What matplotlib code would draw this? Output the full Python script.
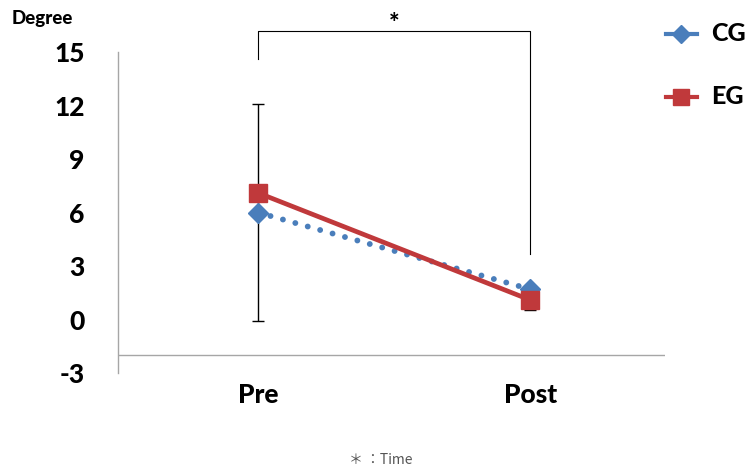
import matplotlib
matplotlib.use("Agg")
from matplotlib import pyplot as plt
from matplotlib.lines import Line2D

groups = ["Pre", "Post"]
cg_mean = [6.0, 1.7]
eg_mean = [7.1, 1.1]
cg_err = [6.1, 0.0]
eg_err = [0.0, 0.55]
y_ticks = [-3, 0, 3, 6, 9, 12, 15]

blue = "#4a7ebb"
red = "#c0393b"
plt.rcParams["font.family"] = ["Lato", "DejaVu Sans"]

fig = plt.figure(figsize=(7.53, 4.72), dpi=100)
ax = fig.add_axes([0.1567, 0.2097, 0.7264, 0.6801])
x = list(range(len(groups)))

# error bars first so markers sit on top
ax.errorbar(x, cg_mean, yerr=cg_err, fmt="none", ecolor="black",
            elinewidth=1, capsize=4, capthick=1, zorder=2)
ax.errorbar(x, eg_mean, yerr=eg_err, fmt="none", ecolor="black",
            elinewidth=1, capsize=4, capthick=1, zorder=2)

ax.plot(x, cg_mean, color=blue, linestyle=(0, (0.01, 2.2)), linewidth=4.2,
        dash_capstyle="round", marker="D", markersize=10, zorder=3)
ax.plot(x, eg_mean, color=red, linestyle="-", linewidth=3.4,
        marker="s", markersize=13, zorder=4)

ax.set_xlim(-0.515, 1.496)
ax.set_ylim(-3, 15)
ax.set_yticks(y_ticks)
ax.set_yticklabels([str(t) for t in y_ticks], fontsize=19, fontweight="black")
ax.set_xticks(x)
ax.set_xticklabels(groups, fontsize=19, fontweight="black")
ax.tick_params(axis="y", length=0, pad=24)
ax.tick_params(axis="x", length=0, pad=7)

for side in ["top", "right", "bottom"]:
    ax.spines[side].set_visible(False)
ax.spines["left"].set_color("#a6a6a6")
ax.spines["left"].set_linewidth(1)
ax.axhline(-2, color="#a6a6a6", linewidth=1, zorder=1)

# significance bracket
ax.plot([0, 0, 1, 1], [14.6, 16.2, 16.2, 3.7], color="black",
        linewidth=0.8, clip_on=False)
ax.text(0.5, 16.6, "*", ha="center", va="center", fontsize=18,
        fontweight="black", clip_on=False)

fig.text(0.015, 0.96, "Degree", fontsize=13.5, fontweight="black", va="center")

# legend
for yy, col, mk, ms, lab in [(0.928, blue, "D", 9, "CG"), (0.795, red, "s", 12, "EG")]:
    fig.add_artist(Line2D([0.884, 0.925], [yy, yy], color=col, linewidth=3,
                          transform=fig.transFigure))
    fig.add_artist(Line2D([0.9045], [yy], color=col, marker=mk, markersize=ms,
                          transform=fig.transFigure))
    fig.text(0.945, yy, lab, fontsize=18, fontweight="black", va="center")

fig.text(0.505, 0.025, "＊ ：Time", fontsize=10, color="#555555",
         ha="center", va="center",
         family=["Noto Sans CJK JP", "DejaVu Sans"])

fig.savefig("out.png", dpi=100)
